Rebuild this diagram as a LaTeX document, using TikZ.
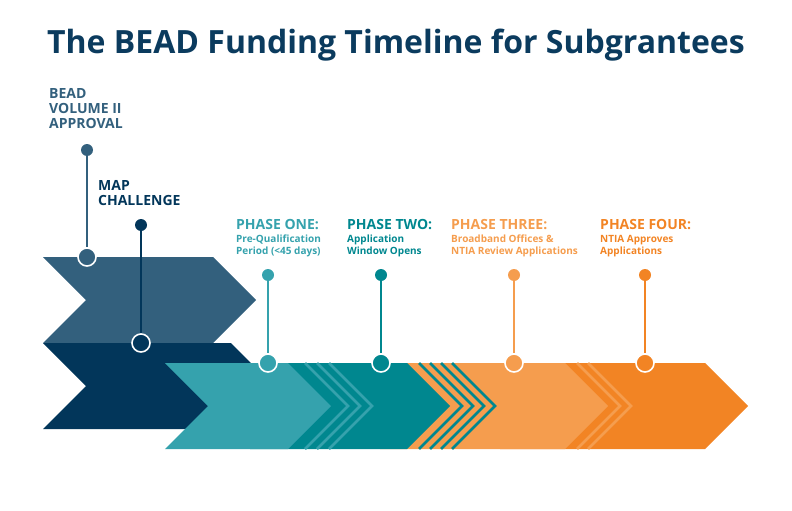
\documentclass[tikz,border=0pt]{standalone}
\usepackage{fontspec}
\setmainfont{Open Sans}
\usepackage{tikz}

\definecolor{navyA}{HTML}{33607D}
\definecolor{navyB}{HTML}{02365A}
\definecolor{tealA}{HTML}{35A2AD}
\definecolor{tealB}{HTML}{00878F}
\definecolor{orngA}{HTML}{F59D4E}
\definecolor{orngB}{HTML}{F28424}
\definecolor{titlecol}{HTML}{0B3B5E}

% chevron: colour, left x, top y, tip x
\newcommand{\chevron}[4]{%
	\fill[#1] (#2,#3) -- (#4-43,#3) -- (#4,#3+43) -- (#4-43,#3+86) -- (#2,#3+86) -- (#2+43,#3+43) -- cycle;}
% stripe: colour, tip x, top y
\newcommand{\stripe}[3]{%
	\draw[#1,line width=2.5pt] (#2-43,#3) -- (#2,#3+43) -- (#2-43,#3+86);}

\begin{document}
\begin{tikzpicture}[x=1pt,y=-1pt,
	pin/.style={circle, draw=white, line width=1.6pt, minimum size=18pt, inner sep=0pt},
	knob/.style={circle, minimum size=12pt, inner sep=0pt},
	stem/.style={line width=1.6pt},
	head/.style={font=\bfseries\fontsize{14}{14}\selectfont, anchor=north west, align=left, inner sep=0pt},
	sub/.style={font=\bfseries\fontsize{10}{12}\selectfont, anchor=north west, align=left, inner sep=0pt}]
	\useasboundingbox (0,0) rectangle (792,511);

	\node[font=\bfseries\fontsize{32}{32}\selectfont, text=titlecol] (title) at (396,45) {The BEAD Funding Timeline for Subgrantees};

	% upper chevrons
	\chevron{navyA}{43}{257}{256}
	\chevron{navyB}{43}{343}{274}

	% lower row, right to left
	\chevron{orngB}{500}{363}{748}
	\stripe{orngA}{631}{363}
	\stripe{orngA}{620}{363}
	\chevron{orngA}{380}{363}{608}
	\stripe{tealB}{495}{363}
	\stripe{tealB}{484}{363}
	\stripe{tealB}{473}{363}
	\stripe{tealB}{462}{363}
	\chevron{tealB}{250}{363}{450}
	\stripe{tealA}{372}{363}
	\stripe{tealA}{360}{363}
	\stripe{tealA}{348}{363}
	\chevron{tealA}{165}{363}{331}

	% milestones
	\node[knob, fill=navyA] (k1) at (87,150) {};
	\node[pin, fill=navyA] (p1) at (87,257) {};
	\draw[stem, navyA] (k1) -- (p1);
	\node[head, text=navyA] (l1) at (49,88) {BEAD\\[1pt]VOLUME II\\[1pt]APPROVAL};

	\node[knob, fill=navyB] (k2) at (141,225) {};
	\node[pin, fill=navyB] (p2) at (141,343) {};
	\draw[stem, navyB] (k2) -- (p2);
	\node[head, text=navyB] (l2) at (98,180) {MAP\\[1pt]CHALLENGE};

	\foreach \x/\c/\n in {268/tealA/3, 381/tealB/4, 514/orngA/5, 645/orngB/6}{
		\node[knob, fill=\c] (k\n) at (\x,275) {};
		\node[pin, fill=\c] (p\n) at (\x,363) {};
		\draw[stem, \c] (k\n) -- (p\n);
	}

	\node[head, text=tealA] (h3) at (236,219) {PHASE ONE:};
	\node[sub, text=tealA] (s3) at (236,235) {Pre-Qualification\\Period (<45 days)};
	\node[head, text=tealB] (h4) at (347,219) {PHASE TWO:};
	\node[sub, text=tealB] (s4) at (347,235) {Application\\Window Opens};
	\node[head, text=orngA] (h5) at (451,219) {PHASE THREE:};
	\node[sub, text=orngA] (s5) at (451,235) {Broadband Offices \&\\NTIA Review Applications};
	\node[head, text=orngB] (h6) at (600,219) {PHASE FOUR:};
	\node[sub, text=orngB] (s6) at (600,235) {NTIA Approves\\Applications};
\end{tikzpicture}
\end{document}
